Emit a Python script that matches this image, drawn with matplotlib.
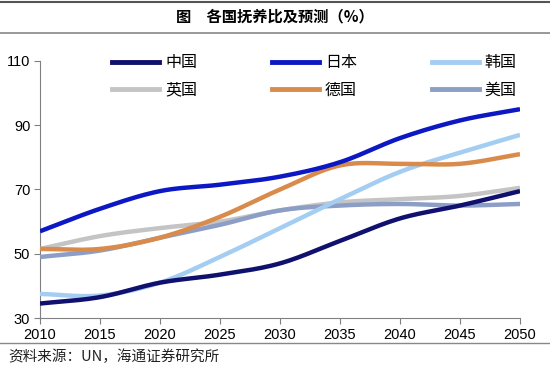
import numpy as np
import matplotlib
matplotlib.use("Agg")
import matplotlib.pyplot as plt
from matplotlib.lines import Line2D

plt.rcParams['font.family'] = ['Liberation Sans', 'Noto Sans CJK SC', 'DejaVu Sans']

years = [2010, 2015, 2020, 2025, 2030, 2035, 2040, 2045, 2050]
china = [34.5, 36.5, 41, 43.5, 47, 54, 61, 65, 69.5]
japan = [57, 64, 69.5, 71.5, 74, 78.5, 86, 91.5, 95]
korea = [37.5, 37, 41, 49, 58, 67, 75.5, 81.5, 87]
uk = [51.5, 55.5, 58, 60, 63.5, 66, 67, 68, 70.5]
germany = [51.5, 51.5, 55, 61.5, 70, 77.5, 78, 78, 81]
usa = [49, 51, 55, 59, 63.5, 65, 65.5, 65, 65.5]

names = ['中国', '日本', '韩国', '英国', '德国', '美国']
colors = ['#10106e', '#0c18c4', '#a4cdf2', '#c4c4c4', '#d98b4c', '#8d9ec6']


# excel-like smoothed line (catmull-rom through the points)
def smooth(x, y, n=20):
    x = np.asarray(x, float)
    y = np.asarray(y, float)
    px = np.concatenate([[2 * x[0] - x[1]], x, [2 * x[-1] - x[-2]]])
    py = np.concatenate([[2 * y[0] - y[1]], y, [2 * y[-1] - y[-2]]])
    xs, ys = [], []
    t = np.linspace(0, 1, n, endpoint=False)
    for i in range(1, len(px) - 2):
        for p, out in ((px, xs), (py, ys)):
            p0, p1, p2, p3 = p[i - 1], p[i], p[i + 1], p[i + 2]
            out.append(0.5 * (2 * p1 + (p2 - p0) * t
                              + (2 * p0 - 5 * p1 + 4 * p2 - p3) * t ** 2
                              + (3 * p1 - p0 - 3 * p2 + p3) * t ** 3))
    xs.append([x[-1]])
    ys.append([y[-1]])
    return np.concatenate(xs), np.concatenate(ys)


fig = plt.figure(figsize=(5.5, 3.71), dpi=100)
ax = fig.add_axes([40 / 550, 1 - 318 / 371, 480 / 550, 257 / 371])

series = [china, japan, korea, uk, germany, usa]
order = [3, 5, 2, 4, 1, 0]
for i in order:
    sx, sy = smooth(years, series[i])
    ax.plot(sx, sy, color=colors[i], lw=3.2, solid_capstyle='butt', zorder=3 + (i == 0))

ax.set_xlim(2010, 2050)
ax.set_ylim(30, 110)
ax.set_xticks(years)
ax.set_yticks([30, 50, 70, 90, 110])
for s in ['top', 'right']:
    ax.spines[s].set_visible(False)
for s in ['left', 'bottom']:
    ax.spines[s].set_color('#808080')
ax.tick_params(direction='out', length=4, color='#808080', labelsize=10.5, pad=3)
ax.patch.set_alpha(0)

# legend fills column by column, so reorder to get rows 中国/日本/韩国, 英国/德国/美国
leg_order = [0, 3, 1, 4, 2, 5]
handles = [Line2D([], [], color=colors[i], lw=3.5) for i in leg_order]
labels = [names[i] for i in leg_order]
fig.legend(handles, labels, ncol=3, loc='upper left', bbox_to_anchor=(98 / 550, 1 - 40 / 371),
           frameon=False, handlelength=2.95, handletextpad=0.35,
           columnspacing=4.7, labelspacing=0.65, prop={'family': ['Noto Sans CJK SC'], 'size': 11.5})

fig.text(0.5, 1 - 16 / 371, '图　各国抚养比及预测（%）', ha='center', va='center',
         fontsize=11, fontweight='bold', family=['Noto Sans CJK SC'])
fig.add_artist(Line2D([0, 1], [1 - 2 / 371] * 2, color='#555555', lw=1.5))
fig.add_artist(Line2D([0, 1], [1 - 33 / 371] * 2, color='#888888', lw=1.2))
fig.add_artist(Line2D([0, 1], [1 - 343 / 371] * 2, color='#888888', lw=1.0))
fig.text(8 / 550, 1 - 357 / 371, '资料来源：UN，海通证券研究所', ha='left', va='center',
         fontsize=10.5, color='#222222', family=['Noto Sans CJK SC'])

fig.savefig('out.png', dpi=100)
